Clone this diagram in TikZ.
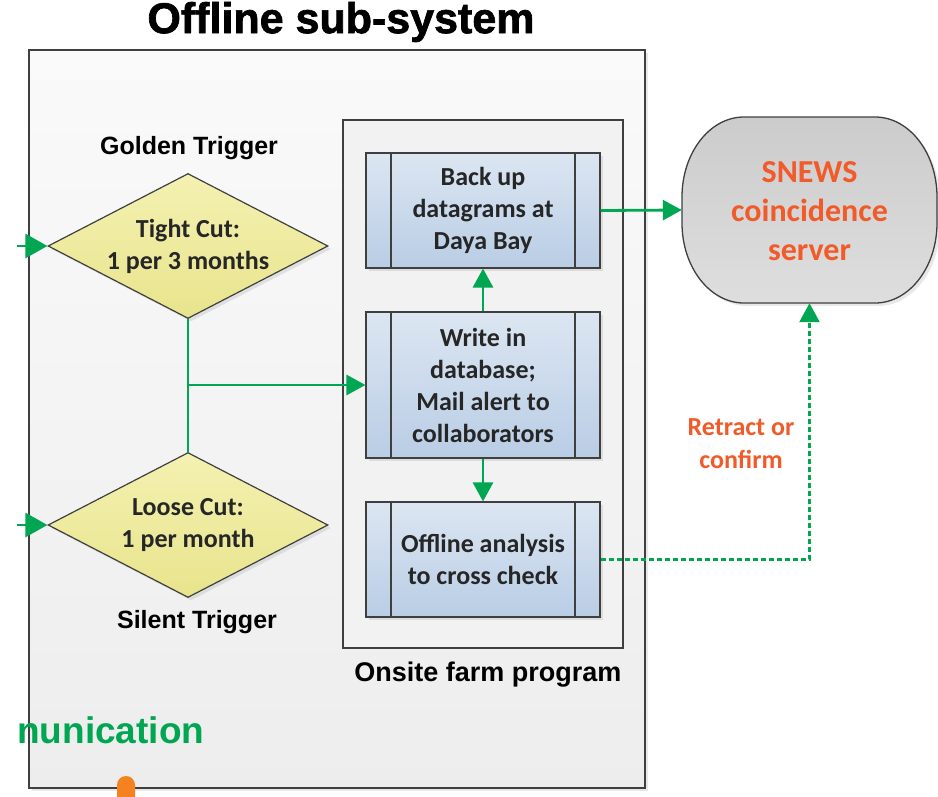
\documentclass[tikz,border=0pt]{standalone}
\usepackage{fontspec}
\setmainfont{Carlito}
\newfontfamily\headfont{Liberation Sans}
\newfontfamily\titlefont{Liberation Sans}[BoldFeatures={FakeBold=1.6}]
\usetikzlibrary{arrows.meta,shapes.geometric,shadows}
\definecolor{flowgreen}{HTML}{00A651}
\definecolor{alertorange}{HTML}{F15A29}
\definecolor{edgegray}{HTML}{3F3F3F}
\definecolor{dotorange}{HTML}{F58220}
\definecolor{inktext}{HTML}{262626}
\definecolor{proctop}{HTML}{DCE6F2}
\definecolor{procbottom}{HTML}{B9CDE5}
\definecolor{trigtop}{HTML}{F4F1B2}
\definecolor{trigbottom}{HTML}{E8E48C}

\begin{document}
\begin{tikzpicture}[x=1pt,y=-1pt,
  softshadow/.style={drop shadow={shadow xshift=3pt,shadow yshift=-3pt,opacity=0.18}},
  outerframe/.style={draw=edgegray,line width=1.6pt,top color=black!2,bottom color=black!7,
    inner sep=0pt,softshadow},
  farmframe/.style={draw=edgegray,line width=1.4pt,fill=black!5,inner sep=0pt},
  procbox/.style={draw=edgegray,line width=1.1pt,top color=proctop,bottom color=procbottom,
    minimum width=234pt,inner sep=2pt,align=center,text=inktext,
    font=\bfseries\fontsize{26}{32}\selectfont,softshadow,
    path picture={\draw[edgegray,line width=1.1pt]
      ([xshift=25pt]path picture bounding box.north west) -- ([xshift=25pt]path picture bounding box.south west)
      ([xshift=-25pt]path picture bounding box.north east) -- ([xshift=-25pt]path picture bounding box.south east);}},
  trigger/.style={diamond,draw=edgegray,line width=1.2pt,top color=trigtop,bottom color=trigbottom,
    minimum width=280pt,minimum height=145pt,inner sep=0pt,softshadow},
  triggertext/.style={align=center,text=inktext,font=\bfseries\fontsize{26}{32}\selectfont,inner sep=0pt},
  headlabel/.style={text=black,font=\headfont\bfseries\fontsize{25}{30}\selectfont,inner sep=0pt},
  flow/.style={draw=flowgreen,line width=2.8pt,-{Triangle[length=19pt,width=20pt]}},
  flowin/.style={draw=flowgreen,line width=2.8pt,-{Triangle[length=22pt,width=24pt]}},
  trunk/.style={draw=flowgreen,line width=2.8pt},
  feedback/.style={draw=flowgreen,line width=2.6pt,dash pattern=on 5pt off 3pt,
    -{Triangle[length=19pt,width=20pt]}},
  orangetext/.style={text=alertorange,align=center,inner sep=0pt}]

\useasboundingbox (0,0) rectangle (938,796);
\fill[white] (0,0) rectangle (938,796);
\clip (0,0) rectangle (938,796);

% offline sub-system frame and title
\node[outerframe,minimum width=616pt,minimum height=738pt] (sub) at (337,419) {};
\node[font=\titlefont\bfseries\fontsize{43}{48}\selectfont,inner sep=0pt] (title) at (341,22) {Offline sub-system};

% onsite farm program frame
\node[farmframe,minimum width=280pt,minimum height=528pt] (farm) at (483,384) {};
\node[headlabel,font=\headfont\bfseries\fontsize{27}{32}\selectfont] (farmlabel) at (488,675) {Onsite farm program};

% trigger decisions
\node[trigger] (gold) at (188,246) {};
\node[triggertext] (goldtext) at (gold) {Tight Cut:\\1 per 3 months};
\node[headlabel] (goldlabel) at (189,148) {Golden Trigger};

\node[trigger] (silent) at (188,525) {};
\node[triggertext] (silenttext) at (silent) {Loose Cut:\\1 per month};
\node[headlabel] (silentlabel) at (197,622) {Silent Trigger};

% farm processes
\node[procbox,minimum height=115pt] (backup) at (483,210.5) {Back up\\datagrams at\\Daya Bay};
\node[procbox,minimum height=146pt] (write) at (483,385) {Write in\\database;\\Mail alert to\\collaborators};
\node[procbox,minimum height=115pt] (check) at (483,559.5) {Offline analysis\\to cross check};

% SNEWS server outline
\path[draw=edgegray,line width=1.3pt,top color=black!20,bottom color=black!13,softshadow]
  (744,117) -- (875,117) arc[start angle=90,end angle=0,x radius=62pt,y radius=80pt]
  -- (937,223) arc[start angle=0,end angle=-90,x radius=62pt,y radius=80pt]
  -- (744,303) arc[start angle=-90,end angle=-180,x radius=62pt,y radius=80pt]
  -- (682,197) arc[start angle=180,end angle=90,x radius=62pt,y radius=80pt] -- cycle;
\node[minimum width=255pt,minimum height=186pt,inner sep=0pt] (snews) at (809.5,210) {};
\node[orangetext,font=\bfseries\fontsize{32}{39}\selectfont] (snewstext) at (809.5,211)
  {SNEWS\\coincidence\\server};

% connectors
\coordinate (goldin) at (17,246);
\coordinate (silentin) at (17,525);
\draw[flowin] (goldin) -- (gold.west);
\draw[flowin] (silentin) -- (silent.west);
\draw[trunk] (gold.south) -- (silent.north);
\draw[flow] (gold.south |- write.west) -- (write.west);
\draw[flow] (write.north) -- (backup.south);
\draw[flow] (write.south) -- (check.north);
\draw[flow] (backup.east) -- (snews.west);
\draw[feedback] (check.east) -| (snews.south);
\node[orangetext,font=\bfseries\fontsize{26}{33}\selectfont] (retract) at (741,444) {Retract or\\confirm};

% partly visible items at the lower left
\node[anchor=base west,text=flowgreen,font=\headfont\bfseries\fontsize{37}{44}\selectfont,inner sep=0pt]
  (comm) at (17,743) {nunication};
\fill[dotorange,rounded corners=9pt] (117,776) rectangle (135,815);
\end{tikzpicture}
\end{document}
